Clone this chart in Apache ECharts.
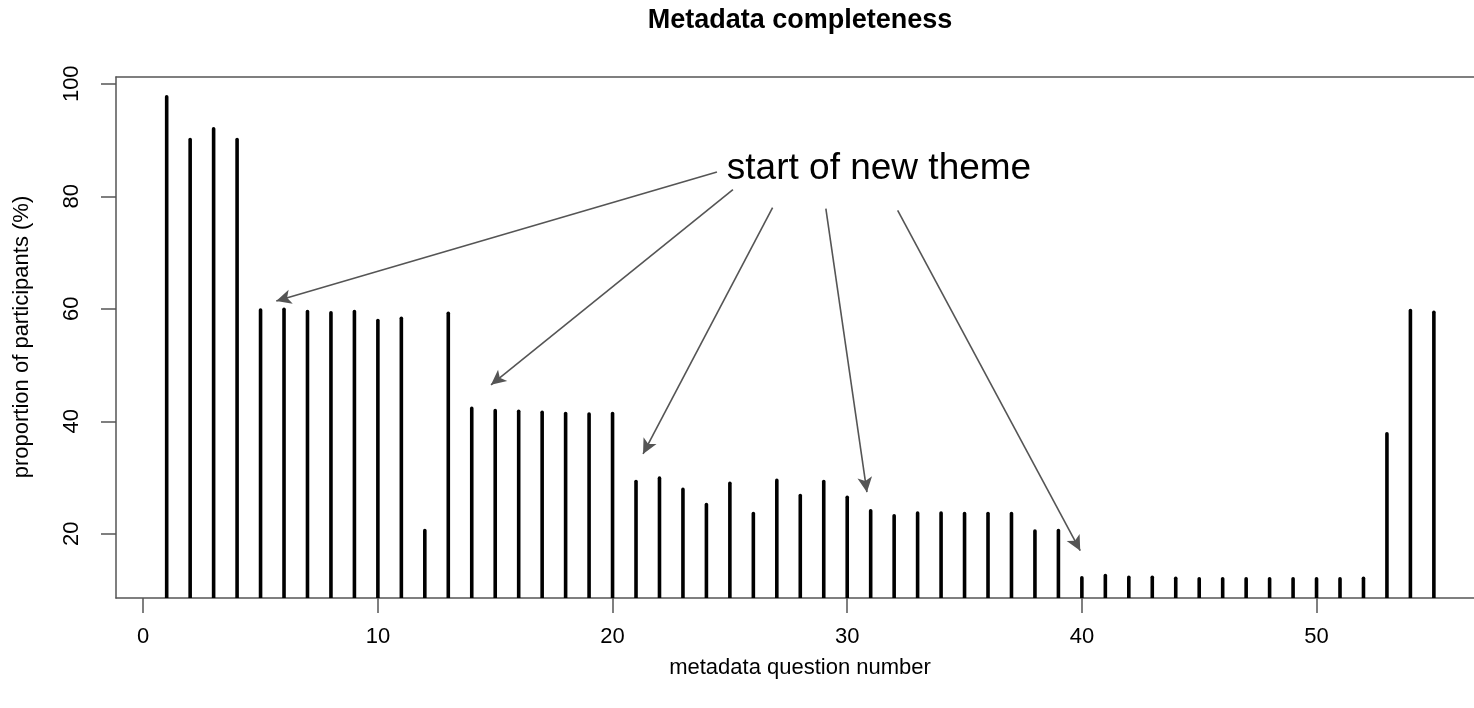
<!DOCTYPE html>
<html>
<head>
<meta charset="utf-8">
<title>Metadata completeness</title>
<script src="https://cdn.jsdelivr.net/npm/echarts@6/dist/echarts.min.js"></script>
<style>
  html, body { margin: 0; padding: 0; background: #fff; }
  #chart { width: 1474px; height: 708px; }
</style>
</head>
<body>
<div id="chart"></div>
<script>
// Question numbers (x) and share of participants answering each one (y, %)
const questions = [
  1, 2, 3, 4, 5, 6, 7, 8, 9, 10,
  11, 12, 13, 14, 15, 16, 17, 18, 19, 20,
  21, 22, 23, 24, 25, 26, 27, 28, 29, 30,
  31, 32, 33, 34, 35, 36, 37, 38, 39, 40,
  41, 42, 43, 44, 45, 46, 47, 48, 49, 50,
  51, 52, 53, 54, 55
];
const completeness = [
  97.7, 90.1, 92.0, 90.1, 59.8, 59.9, 59.5, 59.3, 59.5, 57.9,
  58.3, 20.6, 59.2, 42.3, 41.9, 41.8, 41.6, 41.4, 41.3, 41.4,
  29.3, 29.9, 27.9, 25.2, 29.0, 23.6, 29.5, 26.8, 29.3, 26.5,
  24.1, 23.2, 23.7, 23.7, 23.6, 23.6, 23.6, 20.5, 20.6, 12.2,
  12.6, 12.3, 12.3, 12.1, 12.0, 12.0, 12.0, 12.0, 12.0, 12.0,
  12.0, 12.1, 37.8, 59.7, 59.4
];

// Tick labels
const xTicks = [0, 10, 20, 30, 40, 50];
const yTicks = [20, 40, 60, 80, 100];

// Annotation: label and arrows pointing at the first question of each theme
const annotationText = 'start of new theme';
const annotationAnchor = [24.87, 84.9];
const themeArrows = [
  [[24.45, 84.3], [5.67, 61.4]],
  [[25.13, 81.2], [14.82, 46.5]],
  [[26.82, 78.0], [21.30, 34.2]],
  [[29.09, 77.8], [30.84, 27.4]],
  [[32.15, 77.5], [39.93, 17.0]]
];

// The plot region runs past the right edge of the page, so its right side is not drawn
const X_MIN = -1.16, X_MAX = 56.71;
const Y_MIN = 8.6, Y_MAX = 101.2;
const FONT = '"Liberation Sans", Arial, Helvetica, sans-serif';
const AXIS_GREY = '#555';

const chart = echarts.init(document.getElementById('chart'), null, { renderer: 'canvas' });

const points = questions.map((q, i) => [q, completeness[i]]);

const frameLine = { show: true, onZero: false, lineStyle: { color: AXIS_GREY, width: 1.5 } };

const titleTexts = [
  {
    type: 'text', x: 800, y: 21,
    style: {
      text: 'Metadata completeness', fill: '#000',
      font: 'bold 27px ' + FONT, textAlign: 'center', textVerticalAlign: 'middle'
    }
  },
  {
    type: 'text', x: 800, y: 668,
    style: {
      text: 'metadata question number', fill: '#000',
      font: '22px ' + FONT, textAlign: 'center', textVerticalAlign: 'middle'
    }
  },
  {
    type: 'text', x: 22, y: 337, rotation: Math.PI / 2,
    style: {
      text: 'proportion of participants (%)', fill: '#000',
      font: '22px ' + FONT, textAlign: 'center', textVerticalAlign: 'middle'
    }
  }
];

chart.setOption({
  animation: false,
  backgroundColor: '#fff',
  textStyle: { fontFamily: FONT },
  graphic: titleTexts,
  grid: {
    left: 116, top: 77, right: 0, height: 521,
    show: false, containLabel: false
  },
  xAxis: [
    {
      type: 'value', min: X_MIN, max: X_MAX, position: 'bottom',
      axisLine: frameLine,
      splitLine: { show: false },
      axisTick: {
        show: true, inside: false, length: 15,
        customValues: xTicks,
        lineStyle: { color: AXIS_GREY, width: 1.5 }
      },
      axisLabel: {
        show: true, customValues: xTicks, margin: 28,
        color: '#000', fontSize: 22, fontFamily: FONT
      }
    },
    {
      // top side of the frame
      type: 'value', min: X_MIN, max: X_MAX, position: 'top',
      axisLine: frameLine,
      splitLine: { show: false },
      axisTick: { show: false },
      axisLabel: { show: false }
    }
  ],
  yAxis: {
    type: 'value', min: Y_MIN, max: Y_MAX, position: 'left',
    axisLine: frameLine,
    splitLine: { show: false },
    axisTick: {
      show: true, inside: false, length: 15,
      customValues: yTicks,
      lineStyle: { color: AXIS_GREY, width: 1.5 }
    },
    axisLabel: {
      show: true, customValues: yTicks, margin: 33, rotate: 90,
      color: '#000', fontSize: 22, fontFamily: FONT
    }
  },
  series: [
    {
      name: 'completeness',
      type: 'custom',
      xAxisIndex: 0,
      clip: true,
      silent: true,
      data: points,
      renderItem: function (params, api) {
        const x = api.value(0);
        const top = api.coord([x, api.value(1)]);
        const base = api.coord([x, Y_MIN]);
        return {
          type: 'line',
          shape: { x1: top[0], y1: base[1] + 2, x2: top[0], y2: top[1] },
          style: { stroke: '#000', lineWidth: 3.6, lineCap: 'round' }
        };
      },
      markLine: {
        silent: true,
        symbol: ['none', 'arrow'],
        symbolSize: [11, 15],
        label: { show: false },
        lineStyle: { color: AXIS_GREY, width: 1.6, type: 'solid' },
        emphasis: { disabled: true },
        data: themeArrows.map(a => [
          { coord: a[0] },
          { coord: a[1] }
        ])
      }
    }
  ]
});

// Place the annotation label at its data position
const anchorPx = chart.convertToPixel({ xAxisIndex: 0, yAxisIndex: 0 }, annotationAnchor);
chart.setOption({
  graphic: titleTexts.concat([{
    type: 'text', x: anchorPx[0], y: anchorPx[1],
    style: {
      text: annotationText, fill: '#000',
      font: '37px ' + FONT, textAlign: 'left', textVerticalAlign: 'middle'
    }
  }])
});
</script>
</body>
</html>
